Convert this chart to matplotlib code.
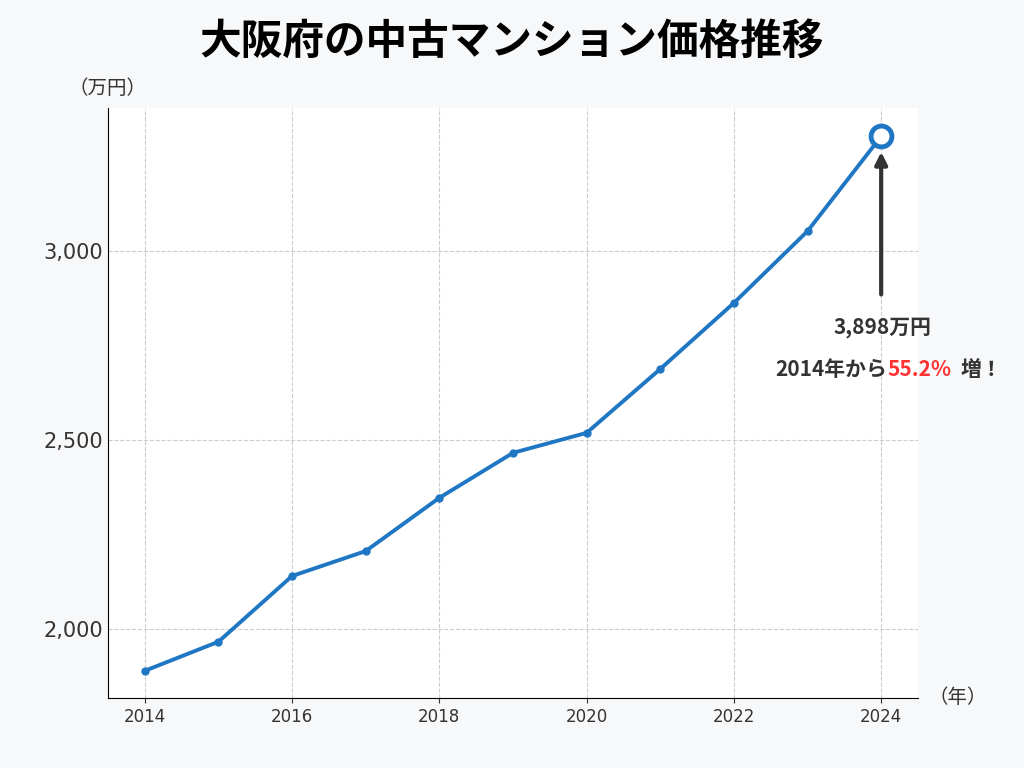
import matplotlib
matplotlib.use("Agg")
import matplotlib.pyplot as plt
from matplotlib.ticker import FuncFormatter

plt.rcParams['font.family'] = ['Noto Sans CJK JP', 'DejaVu Sans']

years = [2014, 2015, 2016, 2017, 2018, 2019, 2020, 2021, 2022, 2023, 2024]
prices = [1889, 1966, 2140, 2206, 2347, 2466, 2519, 2688, 2863, 3053, 3304]
xticks = [2014, 2016, 2018, 2020, 2022, 2024]
yticks = [2000, 2500, 3000]

fig = plt.figure(figsize=(10.24, 7.68), dpi=100, facecolor='#f7f8fa')
ax = fig.add_axes([108/1024, 70/768, 810/1024, 590/768])
ax.set_facecolor('white')
c = '#1f77c4'
ax.plot(years, prices, color=c, lw=2.8, marker='o', ms=5, zorder=3)
ax.plot(years[-1], prices[-1], 'o', ms=15, mfc='white', mec=c, mew=3.5, zorder=4)
ax.set_xlim(2013.5, 2024.5)
ax.set_ylim(1817, 3379)
ax.set_xticks(xticks)
ax.set_yticks(yticks)
ax.yaxis.set_major_formatter(FuncFormatter(lambda v, p: f"{int(v):,}"))
ax.tick_params(axis='y', labelsize=15, length=0, colors='#333333')
ax.tick_params(axis='x', labelsize=12, colors='#333333')
for lab in ax.get_xticklabels() + ax.get_yticklabels():
    lab.set_family('DejaVu Sans')
ax.grid(True, ls='--', color='#cccccc', lw=0.8)
for s in ['top', 'right']:
    ax.spines[s].set_visible(False)

fig.text(0.5, 0.945, '大阪府の中古マンション価格推移', ha='center', va='center', fontsize=30, fontweight='bold')
fig.text(0.105, 0.885, '（万円）', ha='center', va='center', fontsize=14, color='#333333')
fig.text(0.935, 0.092, '（年）', ha='center', va='center', fontsize=14, color='#333333')

ax.annotate('', xy=(2024, 3270), xytext=(2024, 2878),
            arrowprops=dict(arrowstyle='-|>', color='#333333', lw=3, mutation_scale=18))
fig.text(883/1024, 1 - 328/768, '3,898万円', ha='center', va='center', fontsize=15, fontweight='bold', color='#333333')
yy = 1 - 370/768
fig.text(887/1024, yy, '2014年から', ha='right', va='center', fontsize=15, fontweight='bold', color='#333333')
fig.text(887/1024, yy, '55.2%', ha='left', va='center', fontsize=15, fontweight='bold', color='#ff3333')
fig.text(961/1024, yy, '増！', ha='left', va='center', fontsize=15, fontweight='bold', color='#333333')

fig.savefig('out.png', dpi=100, facecolor=fig.get_facecolor())
